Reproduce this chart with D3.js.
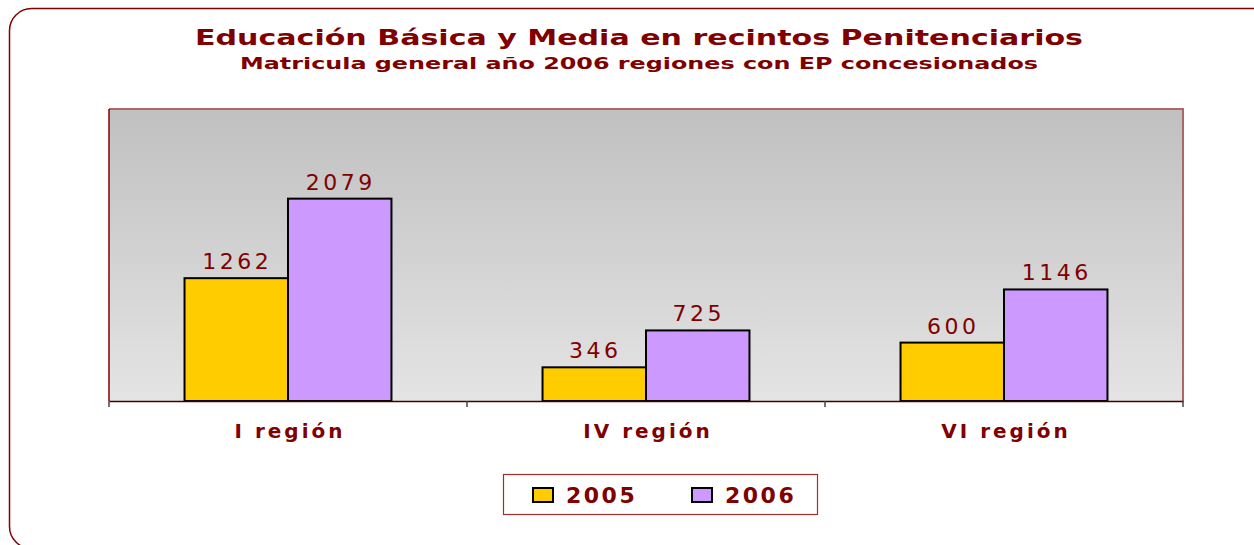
<!DOCTYPE html>
<html>
<head>
<meta charset="utf-8">
<script src="https://cdn.jsdelivr.net/npm/d3@7"></script>
<style>
  body { margin: 0; background: #fff; }
  text { font-family: "DejaVu Sans", Verdana, sans-serif; fill: #800000; }
</style>
</head>
<body>
<div id="chart"></div>
<script>
// Chart data
var regions = ["I región", "IV región", "VI región"];
var years = ["2005", "2006"];
var values2005 = [1262, 346, 600];
var values2006 = [2079, 725, 1146];
var barColors = ["#FFCC00", "#CC99FF"];

var svgWidth = 1254;
var svgHeight = 545;

// plot area inside the frame
var plot = { left: 109, top: 109, right: 1183, bottom: 401 };

var svg = d3.select("#chart")
  .append("svg")
  .attr("width", svgWidth)
  .attr("height", svgHeight);

// background gradient of plot area
var defs = svg.append("defs");
var grad = defs.append("linearGradient")
  .attr("id", "bg")
  .attr("x1", 0).attr("y1", 0)
  .attr("x2", 0).attr("y2", 1);
grad.append("stop").attr("offset", "0%").attr("stop-color", "#c0c0c0");
grad.append("stop").attr("offset", "100%").attr("stop-color", "#e4e4e4");

// outer rounded frame (runs off the right edge)
svg.append("rect")
  .attr("x", 9.5)
  .attr("y", 8.5)
  .attr("width", 1265)
  .attr("height", 540)
  .attr("rx", 22)
  .attr("fill", "none")
  .attr("stroke", "#800000")
  .attr("stroke-width", 1.5);

// titles
svg.append("text")
  .attr("x", 639)
  .attr("y", 45)
  .attr("text-anchor", "middle")
  .attr("font-size", 22)
  .attr("font-weight", "bold")
  .attr("textLength", 888)
  .attr("lengthAdjust", "spacingAndGlyphs")
  .text("Educación Básica y Media en recintos Penitenciarios");

svg.append("text")
  .attr("x", 639)
  .attr("y", 69)
  .attr("text-anchor", "middle")
  .attr("font-size", 16)
  .attr("font-weight", "bold")
  .attr("textLength", 798)
  .attr("lengthAdjust", "spacingAndGlyphs")
  .text("Matricula general año 2006 regiones con EP concesionados");

// plot background
svg.append("rect")
  .attr("x", plot.left)
  .attr("y", plot.top)
  .attr("width", plot.right - plot.left)
  .attr("height", plot.bottom - plot.top)
  .attr("fill", "url(#bg)");

// plot borders: top and right reddish, left dark red
svg.append("path")
  .attr("d", `M${plot.left},${plot.top}H${plot.right}V${plot.bottom}`)
  .attr("fill", "none")
  .attr("stroke", "#b06666")
  .attr("stroke-width", 2);
svg.append("line")
  .attr("x1", plot.left).attr("x2", plot.left)
  .attr("y1", plot.top).attr("y2", plot.bottom)
  .attr("stroke", "#800000")
  .attr("stroke-width", 1.5);

// scales
var x0 = d3.scaleBand()
  .domain(regions)
  .range([plot.left, plot.right]);

var x1 = d3.scaleBand()
  .domain(years)
  .range([0, x0.bandwidth()])
  .paddingOuter(0.73);

var y = d3.scaleLinear()
  .domain([0, 3000])
  .range([plot.bottom, plot.top]);

var rows = regions.map(function (r, i) {
  return { region: r, values: [values2005[i], values2006[i]] };
});

var groups = svg.selectAll(".region")
  .data(rows)
  .enter()
  .append("g")
  .attr("class", "region")
  .attr("transform", d => `translate(${x0(d.region)},0)`);

groups.selectAll("rect")
  .data(d => d.values.map((v, j) => ({ year: years[j], value: v, color: barColors[j] })))
  .enter()
  .append("rect")
  .attr("x", d => x1(d.year))
  .attr("y", d => y(d.value))
  .attr("width", x1.bandwidth())
  .attr("height", d => y(0) - y(d.value))
  .attr("fill", d => d.color)
  .attr("stroke", "#000")
  .attr("stroke-width", 2);

// data labels
groups.selectAll(".val")
  .data(d => d.values.map((v, j) => ({ year: years[j], value: v })))
  .enter()
  .append("text")
  .attr("class", "val")
  .attr("x", d => x1(d.year) + x1.bandwidth() / 2 + 1)
  .attr("y", d => y(d.value) - 9)
  .attr("text-anchor", "middle")
  .attr("font-size", 22)
  .attr("letter-spacing", 3.5)
  .text(d => d.value);

// x axis
var xAxis = d3.axisBottom(x0)
  .tickSize(0)
  .tickFormat("");
var axisG = svg.append("g")
  .attr("transform", `translate(0,${plot.bottom})`)
  .call(xAxis);
axisG.select(".domain")
  .attr("stroke", "#400000")
  .attr("stroke-width", 1.5);

// tick marks at category boundaries
var bounds = regions.map(r => x0(r)).concat([plot.right]);
svg.selectAll(".tick-b")
  .data(bounds)
  .enter()
  .append("line")
  .attr("x1", d => d).attr("x2", d => d)
  .attr("y1", plot.bottom).attr("y2", plot.bottom + 6)
  .attr("stroke", "#444")
  .attr("stroke-width", 1.5);

// category labels
svg.selectAll(".cat")
  .data(regions)
  .enter()
  .append("text")
  .attr("class", "cat")
  .attr("x", d => x0(d) + x0.bandwidth() / 2 + 2)
  .attr("y", 438)
  .attr("text-anchor", "middle")
  .attr("font-size", 20)
  .attr("font-weight", "bold")
  .attr("letter-spacing", 3)
  .text(d => d);

// legend
var legend = svg.append("g");
legend.append("rect")
  .attr("x", 503.5).attr("y", 474.5)
  .attr("width", 314).attr("height", 40)
  .attr("fill", "#fff")
  .attr("stroke", "#a03030")
  .attr("stroke-width", 1.2);

var legendX = [533, 692];
years.forEach(function (yr, i) {
  legend.append("rect")
    .attr("x", legendX[i]).attr("y", 488)
    .attr("width", 20).attr("height", 14)
    .attr("fill", barColors[i])
    .attr("stroke", "#000")
    .attr("stroke-width", 2);
  legend.append("text")
    .attr("x", legendX[i] + 33)
    .attr("y", 503)
    .attr("font-size", 22)
    .attr("font-weight", "bold")
    .attr("letter-spacing", 2.5)
    .text(yr);
});
</script>
</body>
</html>
